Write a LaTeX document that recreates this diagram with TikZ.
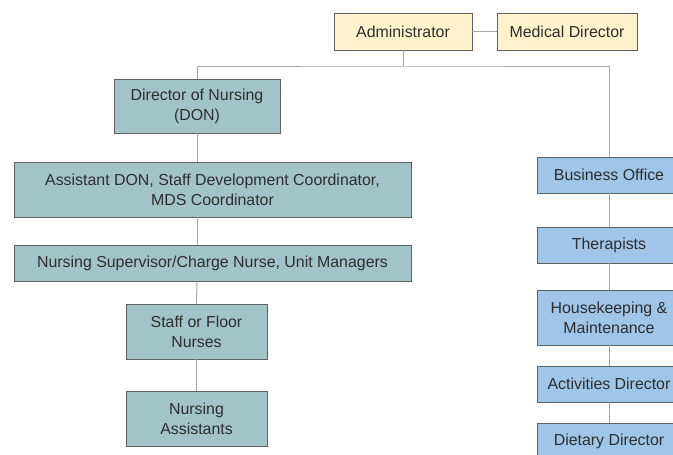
\documentclass[tikz,border=0pt]{standalone}
\usepackage{fontspec}
\setmainfont{Liberation Sans}
\usetikzlibrary{positioning}
\definecolor{admfill}{HTML}{FFF2CC}
\definecolor{nursefill}{HTML}{A2C4C9}
\definecolor{servfill}{HTML}{9FC5E8}
\definecolor{boxline}{HTML}{5F6060}
\definecolor{linkgrey}{HTML}{A6A6A6}
\definecolor{txtgrey}{HTML}{2E2E2E}

\begin{document}
\begin{tikzpicture}[x=1pt, y=-1pt,
  box/.style={draw=boxline, line width=0.8pt, text=txtgrey, align=center,
    inner sep=0pt, font=\fontsize{15.9}{20}\selectfont},
  admbox/.style={box, fill=admfill, minimum height=37pt},
  nursebox/.style={box, fill=nursefill},
  servbox/.style={box, fill=servfill, minimum width=144pt},
  link/.style={draw=linkgrey, line width=1pt}]
  \useasboundingbox (0,0) rectangle (673,455);
  \clip (0,0) rectangle (673,455);

  % top
  \node[admbox, minimum width=138pt] (adm) at (403,31.5) {Administrator};
  \node[admbox, minimum width=140pt] (med) at (567,31.5) {Medical Director};
  \coordinate (split) at (403,66);

  % nursing side
  \node[nursebox, minimum width=166pt, minimum height=54pt] (don) at (197,106) {Director of Nursing\\(DON)};
  \node[nursebox, minimum width=397pt, minimum height=55pt] (asst) at (212.5,189.5) {Assistant DON, Staff Development Coordinator,\\MDS Coordinator};
  \node[nursebox, minimum width=397pt, minimum height=36pt] (sup) at (212.5,263) {Nursing Supervisor/Charge Nurse, Unit Managers};
  \node[nursebox, minimum width=141pt, minimum height=55pt] (staff) at (196.5,331.5) {Staff or Floor\\Nurses};
  \node[nursebox, minimum width=141pt, minimum height=55pt] (aides) at (196.5,418.5) {Nursing\\Assistants};

  % services side
  \node[servbox, minimum height=36pt] (bus) at (609,175) {Business Office};
  \node[servbox, minimum height=36pt] (ther) at (609,245) {Therapists};
  \node[servbox, minimum height=55pt] (house) at (609,317.5) {Housekeeping \&\\Maintenance};
  \node[servbox, minimum height=36pt] (act) at (609,384) {Activities Director};
  \node[servbox, minimum height=36pt] (diet) at (609,441) {Dietary Director};

  % links
  \draw[link] (adm) -- (med);
  \draw[link] (adm) -- (split);
  \draw[link] (don.north) |- (split) -| (bus.north);
  \draw[link] (don.south) -- (don.south |- asst.north);
  \draw[link] (don.south |- asst.south) -- (don.south |- sup.north);
  \draw[link] (don.south |- sup.south) -- (staff.north);
  \draw[link] (staff) -- (aides);
  \draw[link] (bus) -- (ther);
  \draw[link] (ther) -- (house);
  \draw[link] (house) -- (act);
  \draw[link] (act) -- (diet);
\end{tikzpicture}
\end{document}
